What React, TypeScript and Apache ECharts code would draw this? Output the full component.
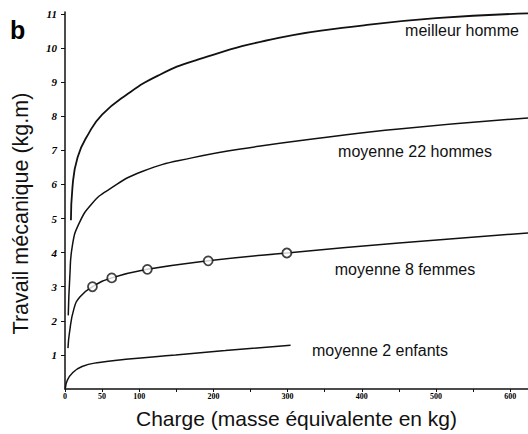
import React, { useEffect, useRef } from "react";
import * as echarts from "echarts";

// Charge (kg) / Travail mécanique (kg.m)
const meilleurHomme: [number, number][] = [
  [8, 4.95], [10, 5.9], [17, 6.8], [32, 7.5], [50, 8.05], [82, 8.62], [126, 9.2],
  [176, 9.64], [288, 10.3], [400, 10.66], [500, 10.88], [624, 11.02],
];
const moyenne22Hommes: [number, number][] = [
  [4.4, 2.16], [6.5, 3.3], [9.9, 4.2], [18.8, 4.85], [36.8, 5.45], [59, 5.85], [104, 6.38],
  [171, 6.78], [261, 7.12], [350, 7.38], [450, 7.63], [624, 7.95],
];
const moyenne8Femmes: [number, number][] = [
  [4, 1.2], [6, 1.65], [12, 2.35], [20, 2.7], [37, 3.0], [63, 3.26], [111, 3.51],
  [193, 3.76], [299, 3.99], [450, 4.28], [624, 4.58],
];
const femmesMesures: [number, number][] = [
  [37, 3.0], [63, 3.26], [111, 3.51], [193, 3.76], [299, 3.99],
];
const moyenne2Enfants: [number, number][] = [
  [0.5, 0.02], [3, 0.25], [10, 0.47], [23, 0.66], [46, 0.78], [82, 0.87], [149, 1.0],
  [216, 1.13], [304, 1.28],
];
const xLabels = [0, 50, 100, 200, 300, 400, 500, 600];
const xTicks = [0, 50, 100, 150, 200, 250, 300, 350, 400, 450, 500, 550, 600];
const yLabels = [1, 2, 3, 4, 5, 6, 7, 8, 9, 10, 11];

export default function App() {
  const ref = useRef<HTMLDivElement>(null);
  useEffect(() => {
    document.body.style.margin = "0";
    const chart = echarts.init(ref.current!, undefined, { renderer: "svg" });
    const mk = (name: string, data: [number, number][], w: number) => ({
      name,
      type: "line",
      data,
      smooth: 0.5,
      showSymbol: false,
      symbol: "none",
      lineStyle: { color: "#111", width: w },
      z: 2,
    });
    const label = (text: string, x: number, y: number) => ({
      type: "text",
      x,
      y,
      style: { text, font: "16px Liberation Sans", fill: "#111", align: "center", verticalAlign: "middle" },
    });
    chart.setOption({
      animation: false,
      backgroundColor: "#fff",
      grid: { left: 65, right: 0, top: 12, bottom: 35 },
      xAxis: {
        type: "value",
        min: 0,
        max: 624,
        name: "Charge (masse équivalente en kg)",
        nameLocation: "middle",
        nameGap: 19,
        nameTextStyle: { fontFamily: "Liberation Sans", fontSize: 21, color: "#111" },
        axisLine: { show: true, lineStyle: { color: "#111", width: 1.5 } },
        axisTick: { show: true, length: 3, inside: false, customValues: xTicks, lineStyle: { color: "#111" } },
        axisLabel: {
          customValues: xLabels,
          margin: 3,
          fontFamily: "Liberation Sans Narrow",
          fontWeight: "bold",
          fontSize: 8,
          color: "#000",
        },
        splitLine: { show: false },
      },
      yAxis: {
        type: "value",
        min: 0,
        max: 11.06,
        name: "Travail mécanique (kg.m)",
        nameLocation: "middle",
        nameGap: 33,
        nameTextStyle: { fontFamily: "Liberation Sans", fontSize: 21.5, color: "#111", padding: [0, 26, 0, 0] },
        axisLine: { show: true, lineStyle: { color: "#111", width: 1.5 } },
        axisTick: { show: true, length: 4, customValues: yLabels, lineStyle: { color: "#111" } },
        axisLabel: {
          customValues: yLabels,
          margin: 8,
          fontFamily: "Liberation Sans Narrow",
          fontWeight: "bold",
          fontStyle: "italic",
          fontSize: 11,
          color: "#000",
        },
        splitLine: { show: false },
      },
      series: [
        mk("meilleur homme", meilleurHomme, 1.8),
        mk("moyenne 22 hommes", moyenne22Hommes, 1.5),
        mk("moyenne 8 femmes", moyenne8Femmes, 1.5),
        mk("moyenne 2 enfants", moyenne2Enfants, 1.5),
        {
          name: "mesures femmes",
          type: "scatter",
          data: femmesMesures,
          symbol: "circle",
          symbolSize: 9,
          itemStyle: { color: "#fff", borderColor: "#111", borderWidth: 1.8 },
          z: 3,
        },
      ],
      graphic: [
        { type: "text", left: 10, top: 17, style: { text: "b", font: "bold 25px Liberation Sans", fill: "#000" } },
        label("meilleur homme", 462, 30),
        label("moyenne 22 hommes", 415, 151),
        label("moyenne 8 femmes", 405, 269),
        label("moyenne 2 enfants", 380, 350),
      ],
    });
    return () => chart.dispose();
  }, []);
  return <div ref={ref} style={{ width: 528, height: 434 }} />;
}
